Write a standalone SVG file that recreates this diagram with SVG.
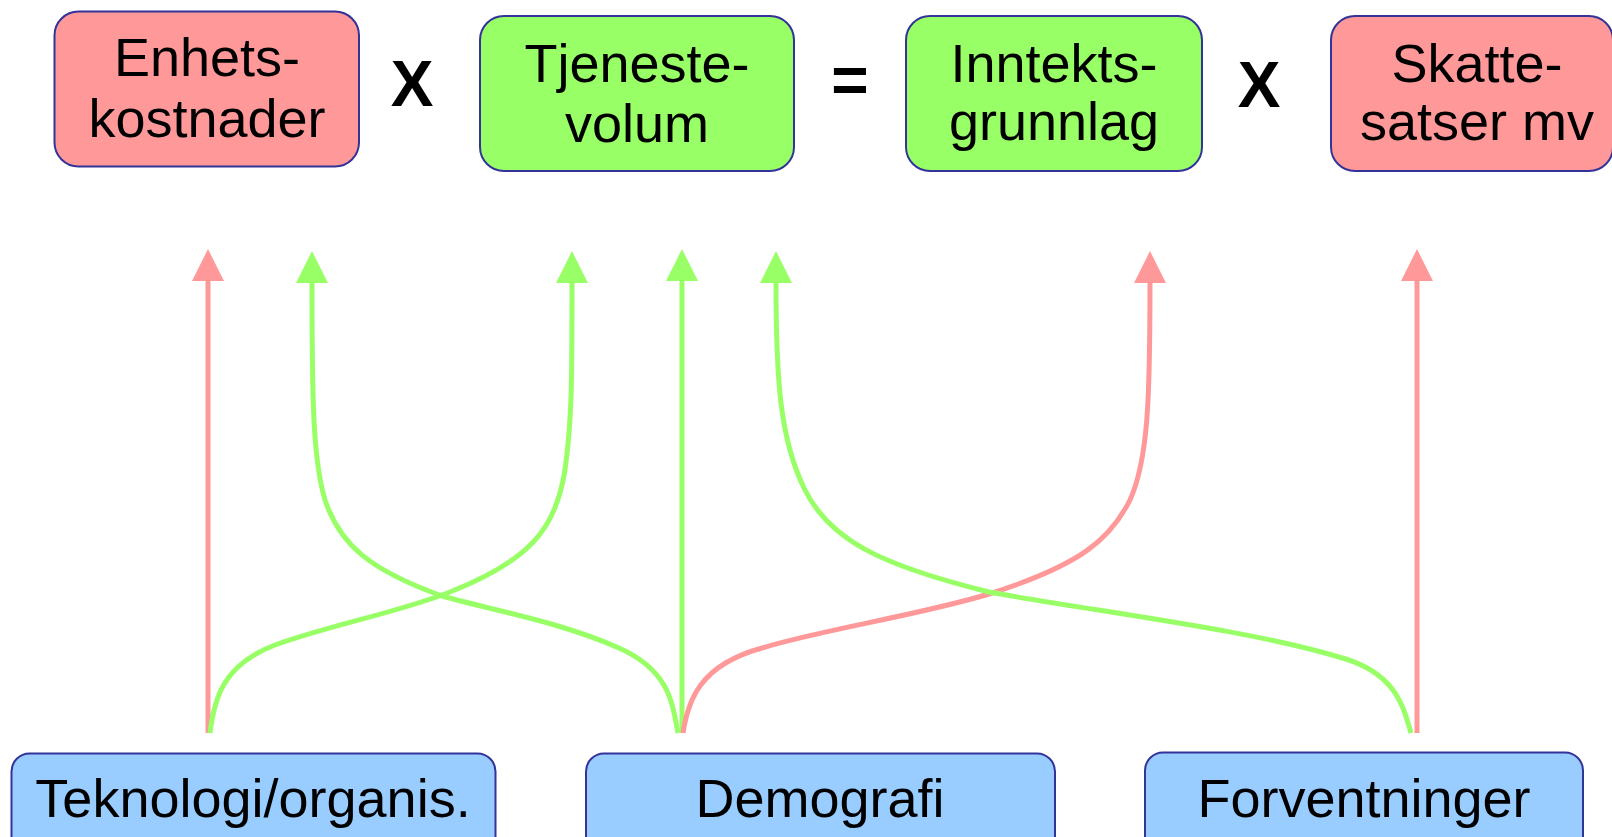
<svg xmlns="http://www.w3.org/2000/svg" width="1612" height="837" viewBox="0 0 1612 837">
<style>
.box{stroke:#333399;stroke-width:2}
.red{fill:#FF9999}
.green{fill:#99FF66}
.blue{fill:#99CCFF}
.t{font-family:"Liberation Sans",Arial,sans-serif;font-size:54px;fill:#000;text-anchor:middle}
.op{font-family:"Liberation Sans",Arial,sans-serif;font-size:64px;font-weight:bold;fill:#000;text-anchor:middle}
.cr{fill:none;stroke:#FF9999;stroke-width:5}
.cg{fill:none;stroke:#99FF66;stroke-width:5}
</style>
<defs>
<marker id="ar" markerUnits="userSpaceOnUse" markerWidth="32" markerHeight="32" refX="0" refY="15" orient="auto" viewBox="0 0 30 30">
<path d="M0,0 L30,15 L0,30 z" fill="#FF9999"/>
</marker>
<marker id="ag" markerUnits="userSpaceOnUse" markerWidth="32" markerHeight="32" refX="0" refY="15" orient="auto" viewBox="0 0 30 30">
<path d="M0,0 L30,15 L0,30 z" fill="#99FF66"/>
</marker>
</defs>
<rect width="1612" height="837" fill="#fff"/>
<g id="connectors">
<path class="cr" marker-end="url(#ar)" d="M208,733 L208,281"/>
<path class="cg" marker-end="url(#ag)" d="M210,733 C214,700 222,665 275,645 C330,625 400,612 450,592 C530,560 555,530 565,470 C572,420 572,380 572,283"/>
<path class="cg" marker-end="url(#ag)" d="M678,733 C672,700 668,670 619,648 C560,622 500,612 442,596 C370,570 340,545 325,500 C313,460 312,400 312,283"/>
<path class="cg" marker-end="url(#ag)" d="M682,733 L682,281"/>
<path class="cr" marker-end="url(#ar)" d="M683,733 C688,700 700,665 762,648 C820,630 920,615 989,594 C1080,565 1110,540 1130,500 C1148,460 1150,400 1150,283"/>
<path class="cg" marker-end="url(#ag)" d="M1411,733 C1403,705 1395,672 1339,657 C1250,630 1100,612 989,592 C880,565 830,540 805,490 C780,440 776,380 776,283"/>
<path class="cr" marker-end="url(#ar)" d="M1417,733 L1417,281"/>
</g>
<g id="enhetskostnader">
<rect class="box red" x="54.5" y="11.5" width="304.5" height="155" rx="24"/>
<text class="t" x="207" y="76">Enhets-</text>
<text class="t" x="207" y="137">kostnader</text>
</g>
<text class="op" x="412" y="106">X</text>
<g id="tjenestevolum">
<rect class="box green" x="480" y="16" width="314" height="155" rx="24"/>
<text class="t" x="637" y="82">Tjeneste-</text>
<text class="t" x="637" y="142">volum</text>
</g>
<text class="op" x="850" y="102">=</text>
<g id="inntektsgrunnlag">
<rect class="box green" x="906" y="16" width="296" height="155" rx="24"/>
<text class="t" x="1054" y="82">Inntekts-</text>
<text class="t" x="1054" y="140">grunnlag</text>
</g>
<text class="op" x="1259" y="107">X</text>
<g id="skattesatser">
<rect class="box red" x="1331" y="16" width="282" height="155" rx="24"/>
<text class="t" x="1477" y="82">Skatte-</text>
<text class="t" x="1477" y="140">satser mv</text>
</g>
<g id="teknologi">
<rect class="box blue" x="11.5" y="753.5" width="484" height="110" rx="18"/>
<text class="t" x="253" y="817">Teknologi/organis.</text>
</g>
<g id="demografi">
<rect class="box blue" x="586" y="753.5" width="469" height="110" rx="18"/>
<text class="t" x="820" y="817">Demografi</text>
</g>
<g id="forventninger">
<rect class="box blue" x="1145" y="752.5" width="438" height="110" rx="18"/>
<text class="t" x="1364" y="817">Forventninger</text>
</g>
</svg>
